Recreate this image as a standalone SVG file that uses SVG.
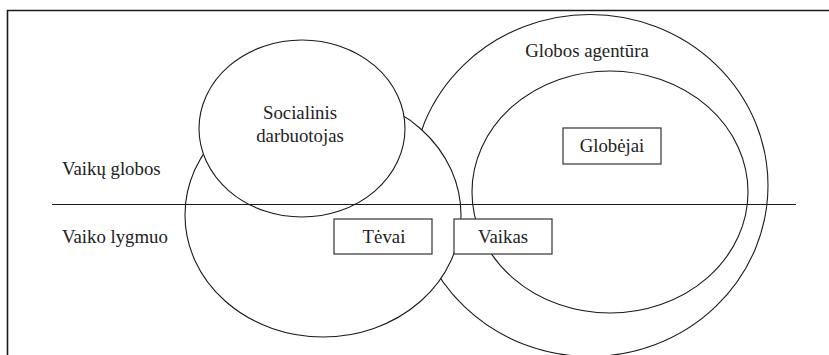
<svg xmlns="http://www.w3.org/2000/svg" width="829" height="355" viewBox="0 0 829 355">
<style>
.sh{fill:#fff;stroke:#1a1a1a;stroke-width:1.1}
.in{fill:none;stroke:#1a1a1a;stroke-width:1.1}
.bx{fill:#fff;stroke:#333;stroke-width:1.2}
.c{text-anchor:middle}
</style>
<rect width="829" height="355" fill="#fff"/>
<g id="frame"><path d="M7.5 355 V10.5 H829" fill="none" stroke="#1a1a1a" stroke-width="1.6"/></g>
<g font-family="Liberation Serif, Times New Roman, serif" font-size="18.8" fill="#222">
<g id="agentura">
<ellipse class="sh" cx="590" cy="185.5" rx="178" ry="171"/>
<text class="c" x="587" y="57">Globos agentūra</text>
</g>
<g id="globejai-circle"><ellipse class="in" cx="610" cy="192" rx="138" ry="121"/></g>
<g id="vaiko-circle"><ellipse class="sh" cx="323" cy="215" rx="138" ry="122"/></g>
<g id="socialinis">
<ellipse class="sh" cx="302" cy="128.5" rx="103" ry="88.5"/>
<text class="c" x="300" y="119">Socialinis</text>
<text class="c" x="300" y="142">darbuotojas</text>
</g>
<g id="connectors"><line x1="52" y1="204.5" x2="796" y2="204.5" stroke="#1a1a1a" stroke-width="1.1"/></g>
<g id="levels">
<text x="62" y="175">Vaikų globos</text>
<text x="62" y="243">Vaiko lygmuo</text>
</g>
<g id="tevai">
<rect class="bx" x="334" y="219" width="98" height="35"/>
<text class="c" x="384" y="243">Tėvai</text>
</g>
<g id="vaikas">
<rect class="bx" x="454" y="219" width="98" height="35"/>
<text class="c" x="503" y="243">Vaikas</text>
</g>
<g id="globejai">
<rect class="bx" x="563" y="128" width="98" height="36"/>
<text class="c" x="612" y="152">Globėjai</text>
</g>
</g>
</svg>
